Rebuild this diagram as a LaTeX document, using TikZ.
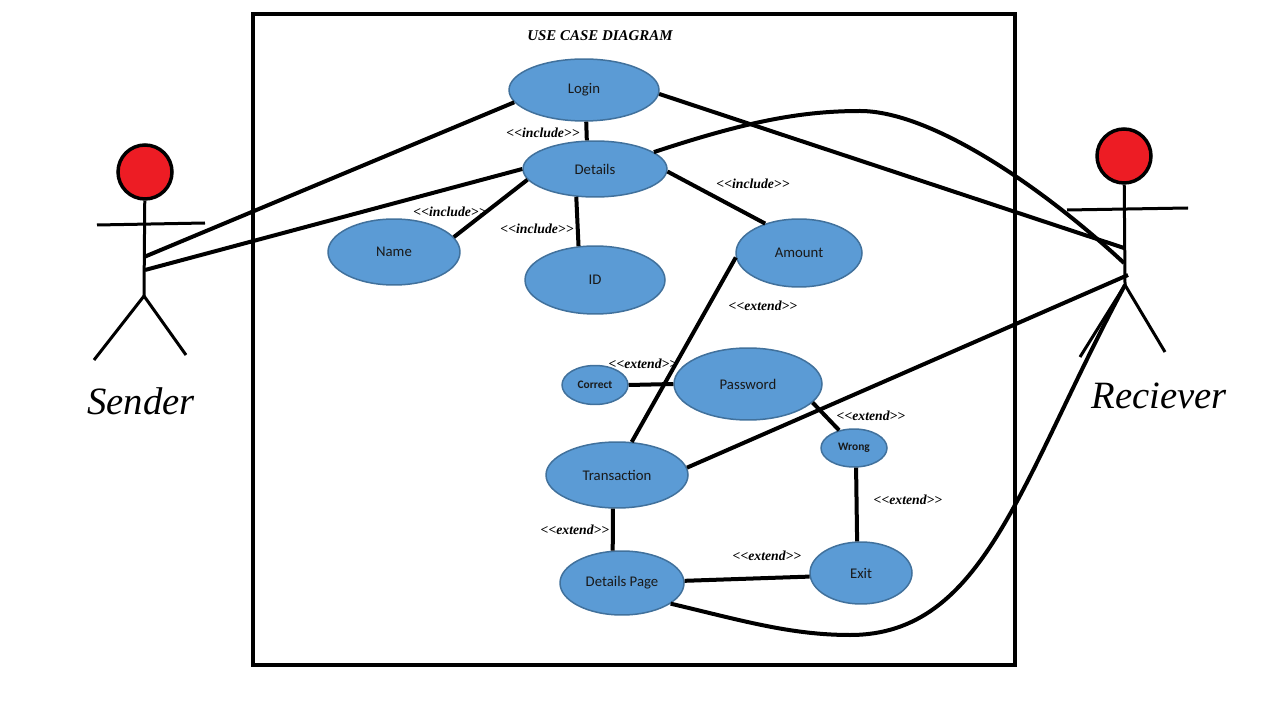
\documentclass[tikz,border=0pt]{standalone}
\usepackage{fontspec}
\usepackage{xcolor}
\usetikzlibrary{shapes.geometric}
\setmainfont{Carlito}
\newfontfamily\seriffont{Liberation Serif}
\definecolor{casefill}{HTML}{5B9BD5}
\definecolor{caseedge}{HTML}{41719C}
\definecolor{headred}{HTML}{ED1C24}
\tikzset{
	usecase/.style={ellipse,draw=caseedge,fill=casefill,line width=0.03cm,inner sep=0pt,text=black!90,font=\fontsize{8.4}{10}\selectfont},
	smallcase/.style={usecase,font=\fontsize{6.5}{8}\selectfont\bfseries},
	stereo/.style={font=\fontsize{7.8}{9}\seriffont\bfseries\itshape},
	actorname/.style={font=\fontsize{22}{24}\seriffont\itshape},
	head/.style={circle,draw=black,fill=headred,line width=0.07cm,minimum size=1.08cm,inner sep=0pt},
	link/.style={line width=0.08cm},
	limb/.style={line width=0.06cm}
}

\begin{document}
\begin{tikzpicture}[x=0.02cm,y=-0.02cm]
	\useasboundingbox (0,0) rectangle (1280,705);
	\draw[line width=0.08cm] (253,14) rectangle (1015,665);
	\node[stereo,font=\fontsize{8.5}{10}\seriffont\bfseries\itshape] (title) at (600,36) {USE CASE DIAGRAM};

	% use cases
	\node[usecase,minimum width=3cm,minimum height=1.24cm] (login) at (584,90) {Login};
	\node[usecase,minimum width=2.88cm,minimum height=1.12cm] (details) at (595,169) {Details};
	\node[usecase,minimum width=2.64cm,minimum height=1.32cm] (name) at (394,252) {Name};
	\node[usecase,minimum width=2.8cm,minimum height=1.36cm] (id) at (595,280) {ID};
	\node[usecase,minimum width=2.52cm,minimum height=1.36cm] (amount) at (799,253) {Amount};
	\node[smallcase,minimum width=1.32cm,minimum height=0.78cm] (correct) at (595,385) {Correct};
	\node[usecase,minimum width=2.96cm,minimum height=1.44cm] (password) at (748,384) {Password};
	\node[smallcase,minimum width=1.32cm,minimum height=0.76cm] (wrong) at (854,448) {Wrong};
	\node[usecase,minimum width=2.84cm,minimum height=1.32cm] (transaction) at (617,475) {Transaction};
	\node[usecase,minimum width=2.48cm,minimum height=1.28cm] (detailspage) at (622,583) {Details Page};
	\node[usecase,minimum width=2.04cm,minimum height=1.24cm] (exit) at (861,573) {Exit};

	% sender
	\node[head] (senderhead) at (145,172) {};
	\coordinate (senderhip) at (144,296);
	\coordinate (senderhanda) at (97,225);
	\coordinate (senderhandb) at (205,223);
	\coordinate (senderfoota) at (94,360);
	\coordinate (senderfootb) at (186,355);
	\coordinate (senderloin) at (144,257);
	\coordinate (senderbelt) at (145,270);
	\draw[limb] (senderhead) -- (senderhip);
	\draw[limb] (senderhanda) -- (senderhandb);
	\draw[limb] (senderfoota) -- (senderhip) -- (senderfootb);
	\node[actorname] (sender) at (141,401) {Sender};

	% reciever
	\node[head] (recieverhead) at (1124,156) {};
	\coordinate (recieverhip) at (1125,285);
	\coordinate (recieverhanda) at (1067,210);
	\coordinate (recieverhandb) at (1188,208);
	\coordinate (recieverfoota) at (1080,357);
	\coordinate (recieverfootb) at (1165,352);
	\coordinate (recieverloin) at (1124,248);
	\coordinate (recieverbelt) at (1124,263);
	\coordinate (recieverwaist) at (1128,275);
	\draw[limb] (recieverhead) -- (recieverhip);
	\draw[limb] (recieverhanda) -- (recieverhandb);
	\draw[limb] (recieverfoota) -- (recieverhip) -- (recieverfootb);
	\node[actorname] (reciever) at (1159,396) {Reciever};

	% connectors
	\draw[link] (senderloin) -- (login.190);
	\draw[link] (senderbelt) -- (details.180);
	\draw[link] (login.357) -- (recieverloin);
	\draw[link] (login.274) -- (details.106);
	\draw[link] (details.189) -- (name.14);
	\draw[link] (details.236) -- (id.116);
	\draw[link] (details.358) -- (amount.139);
	\draw[link] (amount.184) -- (transaction.66);
	\draw[link] (correct.0) -- (password.180);
	\draw[link] (password.344) -- (wrong.130);
	\draw[link] (wrong.276) -- (exit.97);
	\draw[link] (transaction.6) -- (recieverwaist);
	\draw[link] (transaction.263) -- (detailspage.106);
	\draw[link] (detailspage.2) -- (exit.184);
	\coordinate (upperbend) at (860,111);
	\coordinate (lowerbend) at (850,635);
	\draw[link] (details.16) .. controls (745,122) and (800,111) .. (upperbend) .. controls (930,111) and (1040,185) .. (recieverbelt);
	\draw[link] (detailspage.337) .. controls (740,620) and (790,635) .. (lowerbend) .. controls (985,635) and (1020,480) .. (recieverhip);

	% labels
	\node[stereo] (inca) at (543,133) {<<include>>};
	\node[stereo] (incb) at (450,212) {<<include>>};
	\node[stereo] (incc) at (537,229) {<<include>>};
	\node[stereo] (incd) at (753,184) {<<include>>};
	\node[stereo] (exta) at (763,306) {<<extend>>};
	\node[stereo] (extb) at (643,364) {<<extend>>};
	\node[stereo] (extc) at (871,416) {<<extend>>};
	\node[stereo] (extd) at (908,500) {<<extend>>};
	\node[stereo] (exte) at (575,530) {<<extend>>};
	\node[stereo] (extf) at (767,556) {<<extend>>};
\end{tikzpicture}
\end{document}
